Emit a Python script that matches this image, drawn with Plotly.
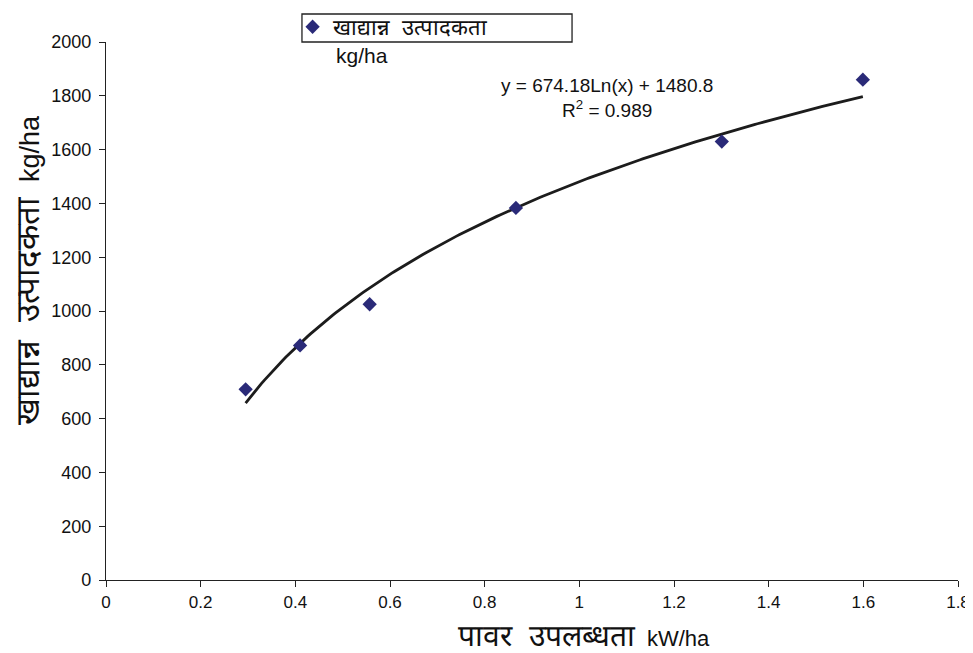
import numpy as np
import plotly.graph_objects as go

# Data
power_kw_ha = [0.295, 0.41, 0.557, 0.866, 1.301, 1.599]
grain_yield = [709, 872, 1025, 1383, 1630, 1860]

# Logarithmic trendline as reported on the chart
TREND_A = 674.18
TREND_B = 1480.8
R2 = 0.989

x_ticks = [0, 0.2, 0.4, 0.6, 0.8, 1, 1.2, 1.4, 1.6, 1.8]
y_ticks = [0, 200, 400, 600, 800, 1000, 1200, 1400, 1600, 1800, 2000]

xt = np.linspace(min(power_kw_ha), max(power_kw_ha), 200)
yt = TREND_A * np.log(xt) + TREND_B

fig = go.Figure()
fig.add_trace(go.Scatter(
    x=xt, y=yt, mode="lines", line=dict(color="#1c1c1c", width=2.8),
    showlegend=False, hoverinfo="skip"))
fig.add_trace(go.Scatter(
    x=power_kw_ha, y=grain_yield, mode="markers",
    marker=dict(symbol="diamond", size=11, color="#2a2a78"),
    name="खाद्यान्न  उत्पादकता"))

# figure sized so that it fits the window next to the page's 8px body margin
fig.update_layout(
    width=965, height=645,
    margin=dict(l=98, r=15, t=34, b=73, autoexpand=False),
    paper_bgcolor="white", plot_bgcolor="white",
    font=dict(family="Liberation Sans, Arial, sans-serif", color="#111"),
    showlegend=True,
    legend=dict(x=0.219, y=1.067, xanchor="left", yanchor="top",
                orientation="h", borderwidth=0, bgcolor="rgba(0,0,0,0)",
                font=dict(size=22), itemwidth=30,
                entrywidth=222, entrywidthmode="pixels",
                tracegroupgap=0),
    xaxis=dict(range=[0, 1.8], tickvals=x_ticks,
               ticktext=[f"{v:g}" for v in x_ticks],
               showgrid=False, zeroline=False, showline=True,
               linecolor="#222", linewidth=1.3, ticks="outside",
               ticklen=6, tickcolor="#222",
               tickfont=dict(size=17)),
    yaxis=dict(range=[0, 2000], tickvals=y_ticks,
               showgrid=False, zeroline=False, showline=True,
               linecolor="#222", linewidth=1.3, ticks="outside",
               ticklen=6, tickcolor="#222", ticklabelstandoff=4,
               tickfont=dict(size=18)),
)

# legend frame (reference draws a fixed-size box around the legend entry)
fig.add_shape(type="rect", xref="paper", yref="paper",
              x0=0.230, x1=0.547, y0=1.0, y1=1.052,
              line=dict(color="#222", width=1.3), fillcolor="rgba(0,0,0,0)",
              layer="below")

# axis titles (placed as in the reference, offset from the plot centre)
fig.add_annotation(xref="paper", yref="paper", x=0.561, y=-0.104,
                   text="<span style='font-size:30px'>पावर  उपलब्धता</span>  kW/ha",
                   showarrow=False, xanchor="center", yanchor="middle",
                   font=dict(size=22))
fig.add_annotation(xref="paper", yref="paper", x=-0.092, y=0.575,
                   text="<span style='font-size:33px'>खाद्यान्न  उत्पादकता</span>  kg/ha",
                   showarrow=False,
                   textangle=-90, xanchor="center", yanchor="middle",
                   font=dict(size=27))

fig.add_annotation(xref="paper", yref="paper", x=0.268, y=0.974,
                   text="kg/ha", showarrow=False, xanchor="left", yanchor="middle",
                   font=dict(size=21))
fig.add_annotation(xref="paper", yref="paper", x=0.588, y=0.896,
                   text=f"y = {TREND_A}Ln(x) + {TREND_B}<br>R<sup>2</sup> = {R2}",
                   showarrow=False, xanchor="center", yanchor="middle",
                   font=dict(size=19), align="center")

fig.write_html("out.html")
